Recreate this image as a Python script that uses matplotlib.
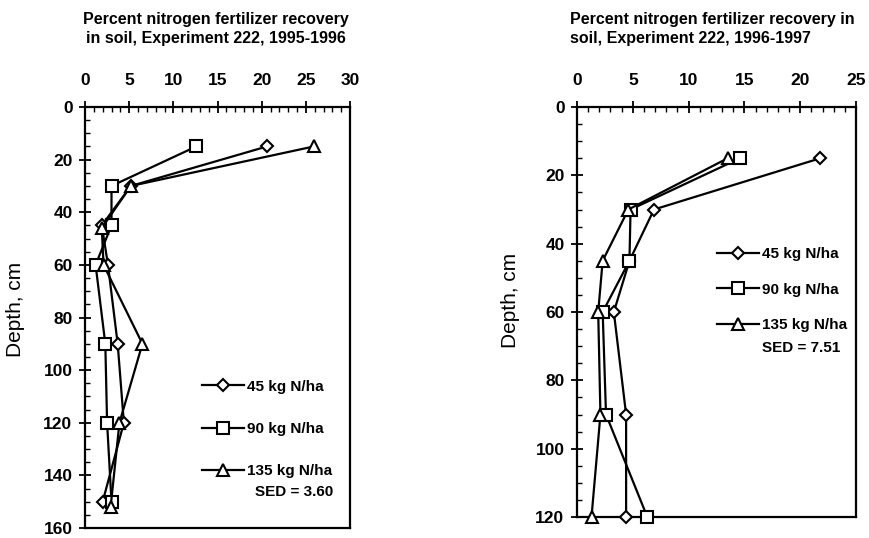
import matplotlib.pyplot as plt
from matplotlib.ticker import MultipleLocator

plt.rcParams['font.family'] = ['Liberation Sans', 'DejaVu Sans']

# 1995-1996 panel
depth_a = [15, 30, 45, 60, 90, 120, 150]
depth_a_135 = [15, 30, 46, 60, 90, 120, 152]
n45_a = [20.6, 5.2, 1.9, 2.6, 3.7, 4.4, 2.0]
n90_a = [12.6, 3.0, 3.0, 1.2, 2.3, 2.5, 3.0]
n135_a = [25.9, 5.2, 1.9, 2.1, 6.5, 3.9, 2.9]

# 1996-1997 panel
depth_b = [15, 30, 45, 60, 90, 120]
n45_b = [21.8, 6.9, 4.7, 3.3, 4.4, 4.4]
n90_b = [14.6, 4.8, 4.7, 2.3, 2.6, 6.3]
n135_b = [13.5, 4.6, 2.3, 1.9, 2.1, 1.3]

labels = ['45 kg N/ha', '90 kg N/ha', '135 kg N/ha']
markers = ['D', 's', '^']
msizes = [6.5, 8, 8.5]

fig = plt.figure(figsize=(8.69, 5.38), dpi=100)
ax1 = fig.add_axes([85/869, 1 - 528/538, 265/869, 421/538])
ax2 = fig.add_axes([577/869, 1 - 517/538, 279/869, 410/538])


def style(ax, xmax, ymax):
    ax.set_xlim(0, xmax)
    ax.set_ylim(ymax, 0)
    ax.xaxis.tick_top()
    ax.xaxis.set_major_locator(MultipleLocator(5))
    ax.xaxis.set_minor_locator(MultipleLocator(1))
    ax.yaxis.set_major_locator(MultipleLocator(20))
    ax.yaxis.set_minor_locator(MultipleLocator(5))
    ax.tick_params(which='major', direction='inout', length=8, width=1.3,
                   labelsize=12.5)
    ax.tick_params(which='minor', direction='in', length=3.5, width=1)
    ax.tick_params(axis='x', pad=10)
    ax.tick_params(axis='y', pad=5)
    for lab in ax.get_xticklabels() + ax.get_yticklabels():
        lab.set_fontweight('bold')
    for sp in ax.spines.values():
        sp.set_linewidth(1.6)


for ax, xs, ds, xmax, ymax in [
        (ax1, [n45_a, n90_a, n135_a], [depth_a, depth_a, depth_a_135], 30, 160),
        (ax2, [n45_b, n90_b, n135_b], [depth_b, depth_b, depth_b], 25, 120)]:
    for x, d, m, ms, lab in zip(xs, ds, markers, msizes, labels):
        ax.plot(x, d, color='black', lw=1.6, marker=m, ms=ms, mfc='white',
                mec='black', mew=1.5, label=lab, clip_on=False, zorder=3)
    style(ax, xmax, ymax)
    ax.set_ylabel('Depth, cm', fontsize=15)

ax1.yaxis.set_label_coords(-0.226, 0.518)
ax2.yaxis.set_label_coords(-0.204, 0.529)

leg_kw = dict(frameon=False, handlelength=2.8, handletextpad=0.15,
              borderpad=0, borderaxespad=0, loc='upper left', numpoints=1,
              prop={'size': 11, 'weight': 'bold'})
ax1.legend(bbox_to_anchor=(0.44, 0.352), labelspacing=1.85, **leg_kw)
ax1.text(0.64, 0.086, 'SED = 3.60', transform=ax1.transAxes, fontsize=11,
         fontweight='bold', ha='left', va='center')
ax2.legend(bbox_to_anchor=(0.50, 0.658), labelspacing=1.4, **leg_kw)
ax2.text(0.663, 0.412, 'SED = 7.51', transform=ax2.transAxes, fontsize=11,
         fontweight='bold', ha='left', va='center')

fig.text(216/869, 1 - 12/538,
         'Percent nitrogen fertilizer recovery\nin soil, Experiment 222, 1995-1996',
         ha='center', va='top', fontsize=11.5, fontweight='bold', linespacing=1.3)
fig.text(570/869, 1 - 12/538,
         'Percent nitrogen fertilizer recovery in\nsoil, Experiment 222, 1996-1997',
         ha='left', va='top', fontsize=11.5, fontweight='bold', linespacing=1.3)

fig.savefig('out.png', dpi=100)
